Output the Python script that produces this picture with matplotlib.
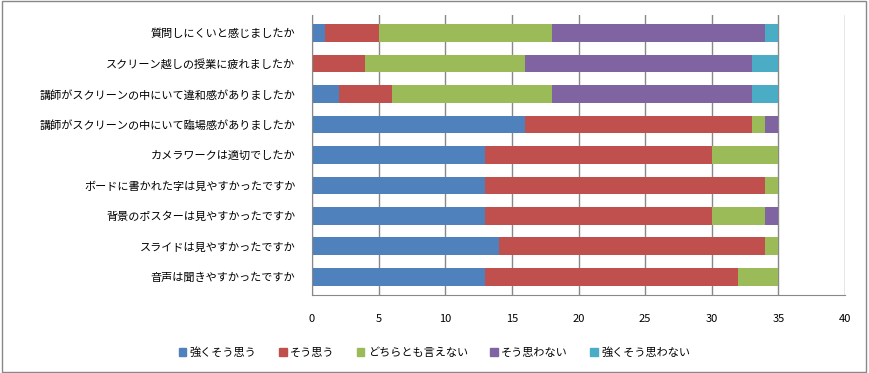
import numpy as np
import matplotlib.pyplot as plt
from matplotlib.patches import Rectangle

plt.rcParams['font.family'] = ['Noto Sans CJK JP', 'DejaVu Sans']

questions = ["質問しにくいと感じましたか",
             "スクリーン越しの授業に疲れましたか",
             "講師がスクリーンの中にいて違和感がありましたか",
             "講師がスクリーンの中にいて臨場感がありましたか",
             "カメラワークは適切でしたか",
             "ボードに書かれた字は見やすかったですか",
             "背景のポスターは見やすかったですか",
             "スライドは見やすかったですか",
             "音声は聞きやすかったですか"]
answers = ["強くそう思う", "そう思う", "どちらとも言えない", "そう思わない", "強くそう思わない"]

strongly_agree = [1, 0, 2, 16, 13, 13, 13, 14, 13]
agree = [4, 4, 4, 17, 17, 21, 17, 20, 19]
neutral = [13, 12, 12, 1, 5, 1, 4, 1, 3]
disagree = [16, 17, 15, 1, 0, 0, 1, 0, 0]
strongly_disagree = [1, 2, 2, 0, 0, 0, 0, 0, 0]

colors = ['#4F81BD', '#C0504D', '#9BBB59', '#8064A2', '#4BACC6']
series = [strongly_agree, agree, neutral, disagree, strongly_disagree]

fig = plt.figure(figsize=(8.69, 3.73), dpi=100)
ax = fig.add_axes([0.359, 0.209, 0.6135, 0.751])

y = np.arange(len(questions))[::-1]
left = np.zeros(len(questions))
for vals, c, name in zip(series, colors, answers):
    ax.barh(y, vals, left=left, height=0.58, color=c, label=name)
    left += np.array(vals)

ax.set_xlim(0, 40)
ax.set_ylim(-0.6, len(questions) - 0.4)
ax.set_xticks(range(0, 45, 5))
ax.set_yticks(y)
ax.set_yticklabels(questions, fontsize=8)
ax.tick_params(axis='x', labelsize=8, length=0, pad=14)
ax.tick_params(axis='y', length=0, pad=12)
ax.xaxis.grid(True, color='#888888', linewidth=1)
ax.set_axisbelow(True)
for s in ['top', 'right']:
    ax.spines[s].set_visible(False)
ax.spines['left'].set_color('#888888')
ax.spines['bottom'].set_color('#888888')

handles = [Rectangle((0, 0), 1, 1, color=c) for c in colors]
fig.legend(handles, answers, loc='center', bbox_to_anchor=(0.5, 0.055), ncol=5,
           frameon=False, fontsize=8, handlelength=0.7, handleheight=0.7,
           handletextpad=0.3, columnspacing=2.0)

fig.add_artist(Rectangle((0.002, 0.004), 0.994, 0.992, transform=fig.transFigure,
                         fill=False, edgecolor='#888888', linewidth=1))

fig.savefig('out.png', dpi=100)
